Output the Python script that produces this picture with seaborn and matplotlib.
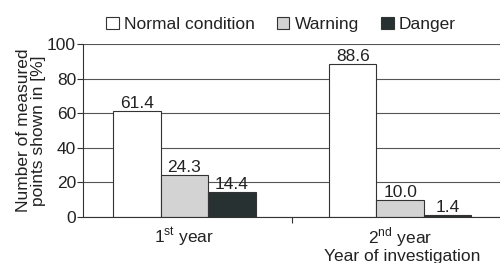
import pandas as pd
import seaborn as sns
import matplotlib.pyplot as plt

# data
years = ["1$^{\\mathrm{st}}$ year", "2$^{\\mathrm{nd}}$ year"]
states = ["Normal condition", "Warning", "Danger"]
normal = [61.4, 88.6]
warning = [24.3, 10.0]
danger = [14.4, 1.4]

sns.set_theme(style="white")
plt.rcParams['font.family'] = ['Liberation Sans', 'DejaVu Sans']
plt.rcParams['mathtext.fontset'] = 'custom'
plt.rcParams['mathtext.rm'] = 'Liberation Sans'

df = pd.DataFrame({
    "year": years * 3,
    "state": [s for s in states for _ in years],
    "value": normal + warning + danger,
})

colors = ["#ffffff", "#d3d3d3", "#263232"]
fs = 12.5

fig = plt.figure(figsize=(5, 2.63), dpi=100)
ax = fig.add_axes([0.166, 0.175, 0.85, 0.658])

sns.barplot(data=df, x="year", y="value", hue="state", hue_order=states,
            palette=colors, width=0.66, edgecolor="#333333", linewidth=0.8,
            gap=0, ax=ax, legend=True)

for c in ax.containers:
    ax.bar_label(c, fmt="%.1f", fontsize=fs, padding=0, color="#222222")

ax.set_ylim(0, 100)
ax.set_yticks([0, 20, 40, 60, 80, 100])
ax.set_xlim(-0.47, 1.5)
ax.yaxis.grid(True, color="#555555", linewidth=0.8)
ax.set_axisbelow(True)
for s in ["top", "right"]:
    ax.spines[s].set_visible(False)
for s in ["left", "bottom"]:
    ax.spines[s].set_color("#333333")
    ax.spines[s].set_linewidth(0.8)

ax.tick_params(axis="y", which="major", left=True, length=4, width=0.8,
               color="#333333", labelsize=fs, pad=1, labelcolor="#222222")
ax.set_xticks([0, 1])
ax.set_xticklabels(years)
ax.tick_params(axis="x", which="major", bottom=False, labelsize=fs, pad=0,
               labelcolor="#222222")
ax.set_xticks([0.5], minor=True)
ax.tick_params(axis="x", which="minor", bottom=True, length=4, width=0.8,
               color="#333333")

ax.set_ylabel("Number of measured\npoints shown in [%]", fontsize=fs,
              color="#222222", linespacing=0.95)
ax.yaxis.set_label_coords(-0.088, 0.5)
ax.set_xlabel("Year of investigation", fontsize=fs, color="#222222")
ax.xaxis.set_label_coords(0.75, -0.183)

leg = ax.legend(loc="lower center", bbox_to_anchor=(0.466, 1.03), ncol=3,
                frameon=False, fontsize=fs, handlelength=0.7,
                handleheight=0.7, handletextpad=0.3, columnspacing=1.3,
                borderaxespad=0)
for t in leg.get_texts():
    t.set_color("#222222")

plt.savefig("out.png", dpi=100)
